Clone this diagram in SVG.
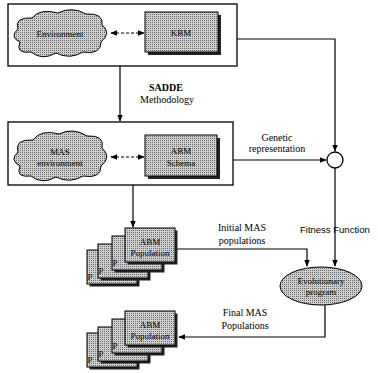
<svg xmlns="http://www.w3.org/2000/svg" width="378" height="373" viewBox="0 0 378 373">
<defs>
<pattern id="dots" width="2" height="2" patternUnits="userSpaceOnUse">
<rect width="2" height="2" fill="#cfcfcf"/>
<rect x="0" y="0" width="1" height="1" fill="#6a6a6a"/>
</pattern>
<marker id="ah" viewBox="0 0 10 10" refX="9" refY="5" markerWidth="7" markerHeight="7" orient="auto-start-reverse" markerUnits="userSpaceOnUse">
<path d="M0,1 L10,5 L0,9 Z" fill="#000"/>
</marker>
<g id="card">
<rect x="2.5" y="2.5" width="50" height="34" fill="#222"/>
<rect x="0" y="0" width="50" height="34" fill="url(#dots)" stroke="#000" stroke-width="1"/>
</g>
</defs>
<style>
.frame{fill:#fff;stroke:#000;stroke-width:1.3}
.box{fill:url(#dots);stroke:#000;stroke-width:1}
.sh{fill:#222}
.ln{fill:none;stroke:#000;stroke-width:1.2}
.dash{fill:none;stroke:#000;stroke-width:1;stroke-dasharray:3 2}
.t{font-family:"Liberation Serif",serif;font-size:10px;fill:#000;text-anchor:middle}
.tn{font-family:"Liberation Serif",serif;font-size:9px;fill:#000;text-anchor:middle}
.ts{font-family:"Liberation Sans",sans-serif;font-size:9.5px;fill:#000}
</style>

<g id="frame-top"><rect class="frame" x="8" y="4" width="229" height="62"/></g>
<g id="frame-mid"><rect class="frame" x="8" y="122" width="225" height="63"/></g>

<g id="connectors">
<line class="dash" x1="111" y1="33" x2="144" y2="33" marker-start="url(#ah)" marker-end="url(#ah)"/>
<line class="dash" x1="111" y1="157" x2="144" y2="157" marker-start="url(#ah)" marker-end="url(#ah)"/>
<polyline class="ln" points="237,39 335,39 335,151" marker-end="url(#ah)"/>
<line class="ln" x1="120" y1="66" x2="120" y2="121" marker-end="url(#ah)"/>
<line class="ln" x1="233" y1="160" x2="326" y2="160" marker-end="url(#ah)"/>
<line class="ln" x1="133" y1="185" x2="133" y2="227" marker-end="url(#ah)"/>
<polyline class="ln" points="177,249 307,249 307,266" marker-end="url(#ah)"/>
<line class="ln" x1="335" y1="168" x2="335" y2="266" marker-end="url(#ah)"/>
<polyline class="ln" points="325,305 325,337 179,337" marker-end="url(#ah)"/>
<text class="t" x="166" y="91" font-weight="bold">SADDE</text>
<text class="t" x="167" y="103">Methodology</text>
<text class="t" x="277" y="141">Genetic</text>
<text class="t" x="277" y="152">representation</text>
<text class="t" x="242" y="231">Initial MAS</text>
<text class="t" x="242" y="244">populations</text>
<text class="ts" x="300" y="233">Fitness Function</text>
<text class="t" x="245" y="316">Final MAS</text>
<text class="t" x="245" y="329">Populations</text>
</g>

<g id="environment">
<path class="box" d="M20,42 Q9,37 18,29 Q14,17 32,18 Q40,8 58,13 Q72,6 86,14 Q104,13 102,25 Q112,33 101,42 Q101,55 83,52 Q70,60 56,53 Q42,61 31,52 Q15,54 20,42 Z"/>
<text class="tn" x="60" y="37">Environment</text>
</g>

<g id="kbm">
<rect class="sh" x="148" y="15" width="73" height="40"/>
<rect class="box" x="145" y="12" width="73" height="40"/>
<text class="tn" x="181" y="36">KBM</text>
</g>

<g id="mas-environment">
<path class="box" d="M20,166 Q9,160 18,152 Q14,139 33,140 Q41,129 59,134 Q73,127 87,136 Q105,135 102,148 Q112,157 101,166 Q101,179 83,176 Q70,184 56,177 Q42,185 31,176 Q15,178 20,166 Z"/>
<text class="tn" x="60" y="155">MAS</text>
<text class="tn" x="60" y="166">environment</text>
</g>

<g id="abm-schema">
<rect class="sh" x="148" y="138" width="72" height="41"/>
<rect class="box" x="145" y="135" width="72" height="41"/>
<text class="tn" x="181" y="154">ABM</text>
<text class="tn" x="181" y="166">Schema</text>
</g>

<g id="circle-node"><circle cx="335" cy="160" r="8" fill="#fff" stroke="#000" stroke-width="1.3"/></g>

<g id="stack-initial">
<use href="#card" x="87" y="250"/>
<text class="tn" x="90" y="280" text-anchor="start">P</text>
<use href="#card" x="98" y="244"/>
<text class="tn" x="101" y="274" text-anchor="start">P</text>
<use href="#card" x="112" y="236"/>
<text class="tn" x="115" y="266" text-anchor="start">P</text>
<use href="#card" x="125" y="228"/>
<text class="tn" x="150" y="245">ABM</text>
<text class="tn" x="150" y="256">Population</text>
</g>

<g id="evolutionary-program">
<ellipse class="box" cx="321" cy="286" rx="41" ry="19"/>
<text class="tn" x="321" y="284">Evolutionary</text>
<text class="tn" x="321" y="295">program</text>
</g>

<g id="stack-final">
<use href="#card" x="87" y="333"/>
<text class="tn" x="90" y="363" text-anchor="start">P</text>
<use href="#card" x="98" y="327"/>
<text class="tn" x="101" y="357" text-anchor="start">P</text>
<use href="#card" x="112" y="319"/>
<text class="tn" x="115" y="349" text-anchor="start">P</text>
<use href="#card" x="125" y="311"/>
<text class="tn" x="150" y="328">ABM</text>
<text class="tn" x="150" y="339">Population</text>
</g>
</svg>
